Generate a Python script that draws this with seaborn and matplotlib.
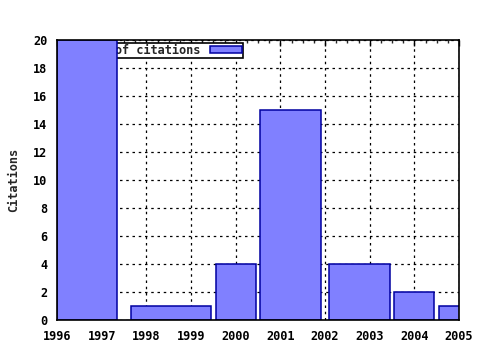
import matplotlib
matplotlib.use("Agg")
import matplotlib.pyplot as plt
import seaborn as sns
from matplotlib.ticker import MultipleLocator

# Data (bar start/end in years, citation counts)
bar_start = [1996.0, 1997.66, 1999.56, 2000.54, 2002.09, 2003.54, 2004.55]
bar_end = [1997.34, 1999.45, 2000.45, 2001.91, 2003.45, 2004.44, 2005.45]
citations = [20, 1, 4, 15, 4, 2, 1]
series_label = "Number of citations"
x_ticks = list(range(1996, 2006))
y_ticks = list(range(0, 21, 2))

sns.set_style("white")
plt.rcParams["font.family"] = ["DejaVu Sans Mono"]
plt.rcParams["font.weight"] = "bold"
FS = 8.6

fig = plt.figure(figsize=(4.8, 3.5), dpi=100)
ax = fig.add_axes([57/480, 30/350, 402/480, 280/350])

widths = [e - s for s, e in zip(bar_start, bar_end)]
bars = ax.bar(bar_start, citations, width=widths, align="edge",
              color="#8080FF", edgecolor="#0000A0", linewidth=1.1,
              zorder=3, label=series_label)

ax.set_xlim(1996, 2005)
ax.set_ylim(0, 20)
ax.set_xticks(x_ticks)
ax.set_yticks(y_ticks)
ax.xaxis.set_minor_locator(MultipleLocator(0.25))
ax.grid(True, which="major", color="black", linestyle=(0, (2, 3)), linewidth=0.9, zorder=0)
ax.set_axisbelow(True)

for sp in ax.spines.values():
    sp.set_color("black")
    sp.set_linewidth(1.2)
    sp.set_visible(True)
    sp.set_zorder(5)

ax.tick_params(axis="x", which="major", direction="out", length=4, width=1,
               top=True, labelsize=FS, pad=3, colors="black")
ax.tick_params(axis="x", which="minor", direction="out", length=2, width=1, top=True)
ax.tick_params(axis="y", which="major", direction="out", length=4, width=1,
               labelsize=FS, pad=3, colors="black")
for t in ax.xaxis.get_major_ticks():
    t.tick2line.set_marker(3)  # top ticks pointing inward
for t in ax.xaxis.get_minor_ticks():
    t.tick2line.set_marker(3)
for lab in ax.get_xticklabels() + ax.get_yticklabels():
    lab.set_fontweight("bold")

ax.set_ylabel("Citations", fontsize=FS, fontweight="bold", labelpad=9)

leg = ax.legend(loc="upper right", bbox_to_anchor=((243 - 57) / 402, (320 - 42.5) / 280),
                markerfirst=False, fancybox=False, framealpha=1, edgecolor="black",
                fontsize=FS, borderaxespad=0, borderpad=0.1, handlelength=2.7,
                handleheight=0.6, handletextpad=0.8)
leg.get_frame().set_linewidth(1.2)
for txt in leg.get_texts():
    txt.set_fontweight("bold")
leg.set_zorder(2)

fig.savefig("out.png", dpi=100)
